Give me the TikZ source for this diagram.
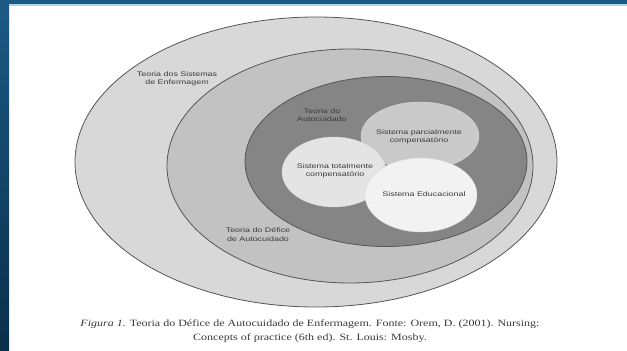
\documentclass[tikz,border=0pt]{standalone}
\usepackage{fontspec}
\setmainfont{Liberation Serif}
\newfontfamily\lblfont[FakeStretch=1.35]{Liberation Sans}
\newfontfamily\capfont[FakeStretch=1.25]{Liberation Serif}
\usetikzlibrary{shapes.geometric}

\definecolor{frameblue}{HTML}{1C5A85}
\definecolor{framedark}{HTML}{0A2F4A}
\definecolor{framecyan}{HTML}{A6D9EC}
\definecolor{ringA}{HTML}{D8D8D8}
\definecolor{ringB}{HTML}{C2C2C2}
\definecolor{ringC}{HTML}{858585}
\definecolor{bubP}{HTML}{C9C9C9}
\definecolor{bubT}{HTML}{E4E4E4}
\definecolor{bubE}{HTML}{F2F2F2}
\definecolor{edge}{HTML}{555555}
\definecolor{lbl}{HTML}{3A3A3A}
\definecolor{captxt}{HTML}{3A3A3A}

\tikzset{
  ring/.style={ellipse, draw=edge, line width=0.8pt, inner sep=0pt},
  bubble/.style={ellipse, draw=white!70!gray, line width=0.4pt, inner sep=0pt},
  tag/.style={align=center, text=lbl, inner sep=0pt,
    font=\lblfont\fontsize{6.6}{8.4}\selectfont},
  captionbox/.style={align=center, text=captxt, inner sep=0pt,
    font=\capfont\fontsize{9.6}{14}\selectfont}
}

\begin{document}
\begin{tikzpicture}[x=1pt,y=-1pt]
\useasboundingbox (0,0) rectangle (627,351);
\fill[white] (0,0) rectangle (627,351);

% slide frame: dark blue bars on the left and top
\shade[top color=frameblue, bottom color=framedark] (0,0) rectangle (9,351);
\fill[frameblue] (0,0) rectangle (627,4);
\fill[framecyan] (9,4) rectangle (627,5.5);
\fill[framecyan!50!white] (9,5.5) rectangle (10,351);

% nested theories
\node[ring, fill=ringA, minimum width=482pt, minimum height=290pt] (sistemas) at (316,162) {};
\node[ring, fill=ringB, minimum width=366pt, minimum height=234pt] (defice) at (350,166) {};
\node[ring, fill=ringC, minimum width=282pt, minimum height=170pt] (autocuidado) at (386,161.5) {};

% nursing systems
\node[bubble, fill=bubP, minimum width=118pt, minimum height=68pt] (parcial) at (420,136) {};
\node[bubble, fill=bubT, minimum width=104pt, minimum height=70pt] (total) at (334,172) {};
\node[bubble, fill=bubE, minimum width=112pt, minimum height=74pt] (educ) at (421,195) {};

% labels
\node[tag] (lsistemas) at (177,79) {Teoria dos Sistemas\\de Enfermagem};
\node[tag] (ldefice) at (258,234.5) {Teoria do Défice\\de Autocuidado};
\node[tag] (lauto) at (322,115) {Teoria do\\Autocuidado};
\node[tag] (lparcial) at (419,137) {Sistema parcialmente\\compensatório};
\node[tag] (ltotal) at (335,171) {Sistema totalmente\\compensatório};
\node[tag] (leduc) at (424,194) {Sistema Educacional};

% caption
\node[captionbox] (caption) at (310,331) {\textit{Figura 1.} Teoria do Défice de Autocuidado de Enfermagem. Fonte: Orem, D. (2001). Nursing:\\Concepts of practice (6th ed). St. Louis: Mosby.};
\end{tikzpicture}
\end{document}
